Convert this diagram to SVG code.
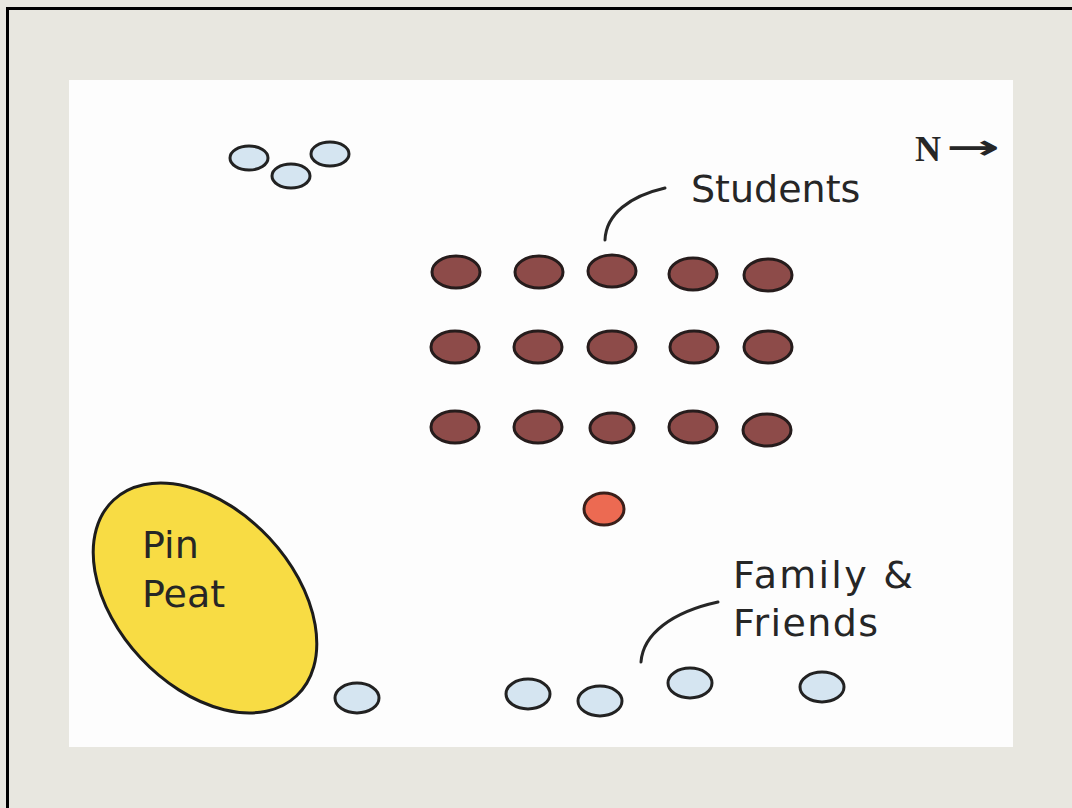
<svg xmlns="http://www.w3.org/2000/svg" width="1072" height="808" viewBox="0 0 1072 808">
<style>
.bg{fill:#e8e7e0}
.panel{fill:#fdfdfd}
.stu{fill:#8d4b49;stroke:#261c1c;stroke-width:3}
.fam{fill:#d5e5f1;stroke:#222;stroke-width:3}
.lead{fill:#ec6a52;stroke:#3a1f1a;stroke-width:3}
.pp{fill:#f8dc44;stroke:#1c1c1c;stroke-width:3}
.lbl{font-family:"DejaVu Sans","Liberation Sans",sans-serif;font-size:38px;fill:#262626}
.conn{fill:none;stroke:#262626;stroke-width:3;stroke-linecap:round}
.nn{font-family:"Liberation Serif",serif;font-weight:bold;font-size:36px;fill:#262626}
</style>
<rect class="bg" x="0" y="0" width="1072" height="808"/>
<path d="M7.5,808 V8.5 H1072" fill="none" stroke="#000" stroke-width="3"/>
<rect class="panel" x="69" y="80" width="944" height="667"/>

<g id="north">
<text class="nn" x="915" y="161">N</text>
<text class="nn" x="946" y="159" font-weight="normal" textLength="54" lengthAdjust="spacingAndGlyphs" style="font-family:'DejaVu Sans',sans-serif;font-size:34px">→</text>
</g>

<g id="visitors-nw">
<ellipse class="fam" cx="249" cy="158" rx="19" ry="12"/>
<ellipse class="fam" cx="291" cy="176" rx="19" ry="12"/>
<ellipse class="fam" cx="330" cy="154" rx="19" ry="12"/>
</g>

<g id="students">
<ellipse class="stu" cx="456" cy="272" rx="24" ry="16"/>
<ellipse class="stu" cx="539" cy="272" rx="24" ry="16"/>
<ellipse class="stu" cx="612" cy="271" rx="24" ry="16"/>
<ellipse class="stu" cx="693" cy="274" rx="24" ry="16"/>
<ellipse class="stu" cx="768" cy="275" rx="24" ry="16"/>
<ellipse class="stu" cx="455" cy="347" rx="24" ry="16"/>
<ellipse class="stu" cx="538" cy="347" rx="24" ry="16"/>
<ellipse class="stu" cx="612" cy="347" rx="24" ry="16"/>
<ellipse class="stu" cx="694" cy="347" rx="24" ry="16"/>
<ellipse class="stu" cx="768" cy="347" rx="24" ry="16"/>
<ellipse class="stu" cx="455" cy="427" rx="24" ry="16"/>
<ellipse class="stu" cx="538" cy="427" rx="24" ry="16"/>
<ellipse class="stu" cx="612" cy="428" rx="22" ry="15"/>
<ellipse class="stu" cx="693" cy="427" rx="24" ry="16"/>
<ellipse class="stu" cx="767" cy="430" rx="24" ry="16"/>
</g>
<g id="students-label">
<text class="lbl" x="691" y="202">Students</text>
</g>

<g id="teacher">
<ellipse class="lead" cx="604" cy="509" rx="20" ry="16"/>
</g>

<g id="pin-peat">
<ellipse class="pp" cx="205" cy="598" rx="134" ry="88" transform="rotate(47 205 598)"/>
<text class="lbl" x="142" y="558">Pin</text>
<text class="lbl" x="142" y="607">Peat</text>
</g>

<g id="family-friends">
<ellipse class="fam" cx="357" cy="698" rx="22" ry="15"/>
<ellipse class="fam" cx="528" cy="694" rx="22" ry="15"/>
<ellipse class="fam" cx="600" cy="701" rx="22" ry="15"/>
<ellipse class="fam" cx="690" cy="683" rx="22" ry="15"/>
<ellipse class="fam" cx="822" cy="687" rx="22" ry="15"/>
</g>
<g id="family-label">
<text class="lbl" x="733" y="588" textLength="180">Family &amp;</text>
<text class="lbl" x="733" y="636" textLength="145">Friends</text>
</g>

<g id="connectors">
<path class="conn" d="M605,240 C606,214 630,196 665,188"/>
<path class="conn" d="M641,662 C643,634 672,612 718,602"/>
</g>
</svg>
